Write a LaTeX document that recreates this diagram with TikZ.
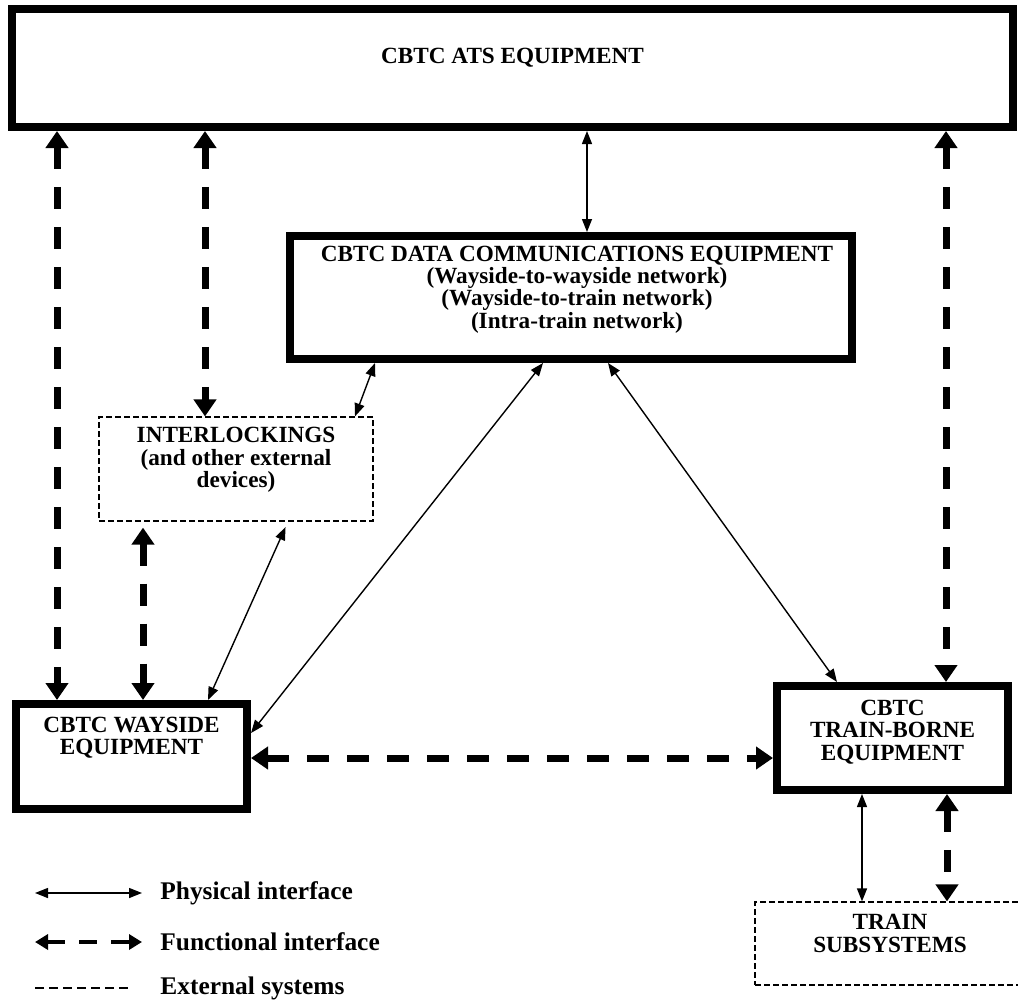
\documentclass[tikz,border=0pt]{standalone}
\usepackage{fontspec}
\setmainfont{Liberation Serif}
\usetikzlibrary{arrows.meta,positioning}

\newcommand{\boxfont}{\fontsize{11.6}{11.2}\selectfont\bfseries}
\newcommand{\legfont}{\fontsize{12.7}{14}\selectfont\bfseries}

\begin{document}
\begin{tikzpicture}[x=0.5pt,y=-0.5pt,
	bigbox/.style={draw, line width=4pt, inner sep=0pt},
	extbox/.style={draw, line width=0.6pt, dash pattern=on 3pt off 1.5pt, inner sep=0pt},
	boxtext/.style={font=\boxfont, align=center, inner sep=0pt},
	legtext/.style={font=\legfont, anchor=west, inner sep=0pt},
	phys/.style={{Triangle[length=6.5pt,width=5pt]}-{Triangle[length=6.5pt,width=5pt]}, line width=0.7pt},
	func/.style={{Triangle[length=8.5pt,width=11pt]}-{Triangle[length=8.5pt,width=11pt]}, line width=3.5pt, dash pattern=on 11pt off 9pt},
	legfunc/.style={{Triangle[length=6.5pt,width=7.5pt]}-{Triangle[length=6.5pt,width=7.5pt]}, line width=2pt, dash pattern=on 9pt off 7pt},
	extline/.style={line width=1pt, dash pattern=on 4.5pt off 2.5pt},
]

	\clip (0,0) rectangle (1018,1007);

	% ATS
	\node[bigbox, minimum width=500.5pt, minimum height=59pt] (ats) at (512.5,68) {};
	\node[boxtext] (atsText) at ([yshift=5pt]ats.center) {CBTC ATS EQUIPMENT};

	% data communications
	\node[bigbox, minimum width=281pt, minimum height=61.5pt] (dc) at (571,297.5) {};
	\node[boxtext] (dcText) at ([xshift=3pt, yshift=4pt]dc.center)
		{CBTC DATA COMMUNICATIONS EQUIPMENT\\
		 (Wayside-to-wayside network)\\
		 (Wayside-to-train network)\\
		 (Intra-train network)};

	% interlockings
	\node[extbox, minimum width=137pt, minimum height=52pt] (il) at (236,469) {};
	\node[boxtext] (ilText) at ([yshift=4.5pt]il.center)
		{INTERLOCKINGS\\(and other external\\devices)};

	% wayside
	\node[bigbox, minimum width=115.5pt, minimum height=52.5pt] (way) at (131.5,756.5) {};
	\node[boxtext] (wayText) at ([yshift=9.5pt]way.center) {CBTC WAYSIDE\\EQUIPMENT};

	% train-borne
	\node[bigbox, minimum width=115.5pt, minimum height=52pt] (tb) at (892.5,738) {};
	\node[boxtext] (tbText) at ([yshift=3pt]tb.center) {CBTC\\TRAIN-BORNE\\EQUIPMENT};

	% train subsystems
	\node[extbox, minimum width=135pt, minimum height=41.5pt] (ts) at (890,943.5) {};
	\node[boxtext] (tsText) at ([yshift=5pt]ts.center) {TRAIN\\SUBSYSTEMS};

	% functional interfaces
	\draw[func] (ats.south -| 57,0) -- (way.north -| 57,0);
	\draw[func] (ats.south -| 205,0) -- (il.north -| 205,0);
	\draw[func] (ats.south -| 946,0) -- (tb.north -| 946,0);
	\draw[func, shorten <=3pt] (il.south -| 143,0) -- (way.north -| 143,0);
	\draw[func] (way.east |- 0,758) -- (tb.west |- 0,758);
	\draw[func] (tb.south -| 947,0) -- (ts.north -| 947,0);

	% physical interfaces
	\draw[phys] (ats.south -| 587,0) -- (dc.north -| 587,0);
	\draw[phys] (dc.south -| 375,0) -- (il.north -| 355,0);
	\draw[phys, shorten <=3pt] (il.south -| 288,0) -- (way.north -| 208,0);
	\draw[phys] (dc.south -| 543,0) -- (way.east |- 0,733);
	\draw[phys] (dc.south -| 608,0) -- (tb.north -| 837,0);
	\draw[phys] (tb.south -| 862,0) -- (ts.north -| 862,0);

	% legend
	\node[legtext] (legPhys) at (160,893) {Physical interface};
	\node[legtext] (legFunc) at (160,942) {Functional interface};
	\node[legtext] (legExt) at (160,988) {External systems};
	\coordinate (legPhysEnd) at (35,893);
	\coordinate (legFuncEnd) at (35,942);
	\coordinate (legExtEnd) at (35,988);
	\draw[phys, shorten >=9pt] (legPhysEnd) -- (legPhys.west);
	\draw[legfunc, shorten >=9pt] (legFuncEnd) -- (legFunc.west);
	\draw[extline, shorten >=13.5pt] (legExtEnd) -- (legExt.west);

\end{tikzpicture}
\end{document}
